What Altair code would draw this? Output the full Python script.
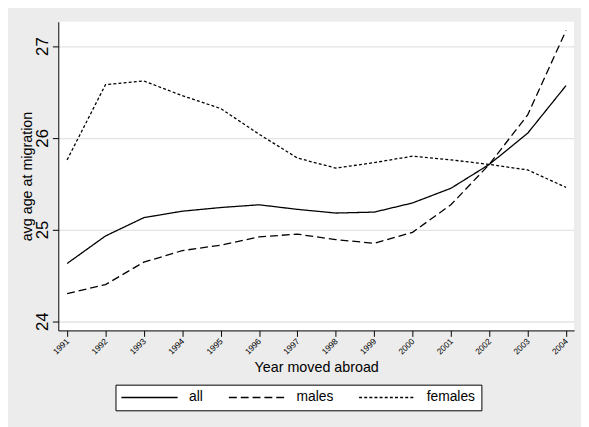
import altair as alt
import pandas as pd

years = list(range(1991, 2005))
all_vals = [24.63, 24.93, 25.13, 25.20, 25.24, 25.27, 25.22, 25.18, 25.19, 25.29, 25.45, 25.71, 26.05, 26.57]
males_vals = [24.30, 24.40, 24.645, 24.77, 24.83, 24.92, 24.95, 24.89, 24.85, 24.97, 25.27, 25.71, 26.25, 27.17]
females_vals = [25.76, 26.58, 26.62, 26.46, 26.32, 26.04, 25.78, 25.67, 25.73, 25.80, 25.76, 25.71, 25.65, 25.46]
series_names = ["all", "males", "females"]

rows = []
for name, vals in zip(series_names, [all_vals, males_vals, females_vals]):
    for yr, v in zip(years, vals):
        rows.append({"year": yr, "age": v, "series": name})
df = pd.DataFrame(rows)

FONT = "Liberation Sans"

chart = alt.Chart(df).mark_line(color="black", strokeWidth=1.3).encode(
    x=alt.X("year:Q",
            scale=alt.Scale(domain=[1990.77, 2004.21], nice=False, zero=False),
            axis=alt.Axis(title="Year moved abroad", values=years, format="d",
                          labelAngle=-45, labelAlign="right", labelBaseline="middle",
                          labelFontSize=8.5, labelPadding=3, tickSize=6,
                          titleFontSize=14.5, titleFontWeight="normal",
                          titleBaseline="alphabetic", titleY=42,
                          grid=False, labelOverlap=False)),
    y=alt.Y("age:Q",
            scale=alt.Scale(domain=[23.9, 27.266], nice=False, zero=False),
            axis=alt.Axis(title="avg age at migration", values=[24, 25, 26, 27],
                          labelAngle=-90, labelAlign="center", labelBaseline="alphabetic",
                          labelFontSize=17, labelPadding=4.7, tickSize=6,
                          titleFontSize=14.5, titleFontWeight="normal",
                          titleAngle=-90, titleBaseline="alphabetic", titleX=-27.6,
                          grid=True, gridColor="#e4e4e4", gridWidth=1.4)),
    strokeDash=alt.StrokeDash("series:N",
                              scale=alt.Scale(domain=series_names,
                                              range=[[1, 0], [8, 4], [3, 2.2]]),
                              legend=alt.Legend(title=None, orient="none",
                                                legendX=58, legendY=368,
                                                direction="horizontal",
                                                symbolType="M-5,0L5,0", symbolSize=130,
                                                symbolStrokeWidth=1.3,
                                                symbolStrokeColor="black",
                                                symbolFillColor="transparent",
                                                symbolOffset=21.5,
                                                labelFontSize=14, labelOffset=33,
                                                columnPadding=23, padding=6,
                                                strokeColor="black", fillColor="white",
                                                labelColor="black")),
).properties(
    width=523, height=313,
    autosize=alt.AutoSizeParams(type="none"),
    padding={"left": 51, "top": 11, "right": 7, "bottom": 95},
    background="#ececec",
).configure_view(
    fill="white", stroke=None
).configure_axis(
    domainColor="black", domainWidth=1, tickColor="black", tickWidth=1,
    labelColor="black", titleColor="black", labelFont=FONT, titleFont=FONT
).configure_legend(
    labelFont=FONT
)

chart.save("out.html", embed_options={"renderer": "svg", "actions": False})
